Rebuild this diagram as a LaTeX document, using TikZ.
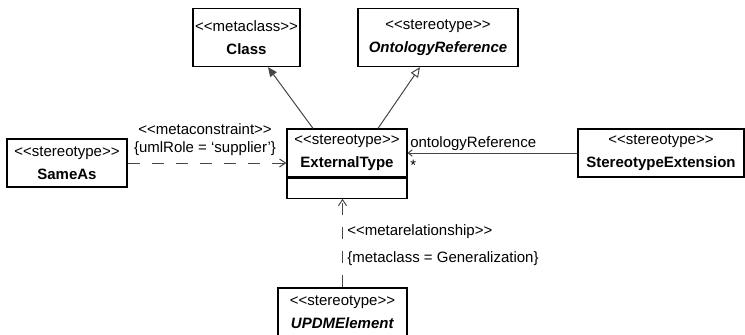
\documentclass[tikz,border=0pt]{standalone}
\usepackage{fontspec}
\newfontfamily\umlfont{Liberation Sans}
\usetikzlibrary{arrows.meta}
\usetikzlibrary{calc}

\tikzset{
  umlbox/.style={draw, line width=0.9pt, align=center, inner sep=0pt, font=\umlfont\fontsize{11.25}{17.25}\selectfont},
  umllabel/.style={inner sep=0.75pt, font=\umlfont\fontsize{11.25}{13}\selectfont},
  umlline/.style={color={rgb, 255:red, 70; green, 70; blue, 70}, line width=0.75pt},
  umldash/.style={umlline, dash pattern=on 9pt off 9pt},
}

\begin{document}
\begin{tikzpicture}[x=0.75pt,y=0.75pt,yscale=-1,xscale=1]
\useasboundingbox (0,0) rectangle (745,335);

% Class Boxes
\draw (246.5,37.5) node [umlbox, minimum width=80.25pt, minimum height=43.5pt] (class) {<<metaclass>>\\\textbf{Class}};
\draw (438,37.5) node [umlbox, minimum width=120pt, minimum height=43.5pt] (ontref) {<<stereotype>>\\\textbf{\textit{OntologyReference}}};
\draw (67,163) node [umlbox, minimum width=90pt, minimum height=36pt] (sameas) {<<stereotype>>\\\textbf{SameAs}};
\draw (347,153) node [umlbox, minimum width=90pt, minimum height=36pt] (exttype) {<<stereotype>>\\\textbf{ExternalType}};
\draw (exttype.south) node [umlbox, anchor=north, minimum width=90pt, minimum height=15pt] (extlow) {};
\draw (661,153) node [umlbox, minimum width=124.5pt, minimum height=36pt] (stext) {<<stereotype>>\\\textbf{StereotypeExtension}};
\draw (342.5,312) node [umlbox, minimum width=96.75pt, minimum height=36pt] (updm) {<<stereotype>>\\\textbf{\textit{UPDMElement}}};

%Straight Lines 
\draw [umlline, -{Triangle[length=7pt,width=6pt]}] ($(exttype.north)+(-34,0)$) -- ($(class.south)+(21.5,0)$);
%Straight Lines 
\draw [umlline, -{Triangle[open,length=7.5pt,width=6.5pt]}] ($(exttype.north)+(31,0)$) -- ($(ontref.south)+(-18,0)$);
%Straight Lines 
\draw [umldash, -{Straight Barb[length=4.5pt,width=6pt]}] (sameas.east) -- (sameas.east -| exttype.west);
%Straight Lines 
\draw [umlline, {Straight Barb[length=3pt,width=5pt]}-] (exttype.east) -- (stext.west);
%Straight Lines 
\draw [umldash, -{Straight Barb[length=4.5pt,width=6pt]}] (updm.north) -- (updm.north |- extlow.south);

% Text Node
\draw (205,129) node [umllabel] (mcname) {<<metaconstraint>>};
% Text Node
\draw (205,149) node [umllabel] (mcrole) {\{umlRole = ‘supplier’\}};
% Text Node
\draw (409,147) node [umllabel, anchor=base west] (assocname) {ontologyReference};
% Text Node
\draw (409,170) node [umllabel, anchor=base west] (assocmult) {*};
% Text Node
\draw (346,232) node [umllabel, anchor=west] (mrname) {<<metarelationship>>};
% Text Node
\draw (346,259) node [umllabel, anchor=west] (mrclass) {\{metaclass = Generalization\}};

\end{tikzpicture}
\end{document}
